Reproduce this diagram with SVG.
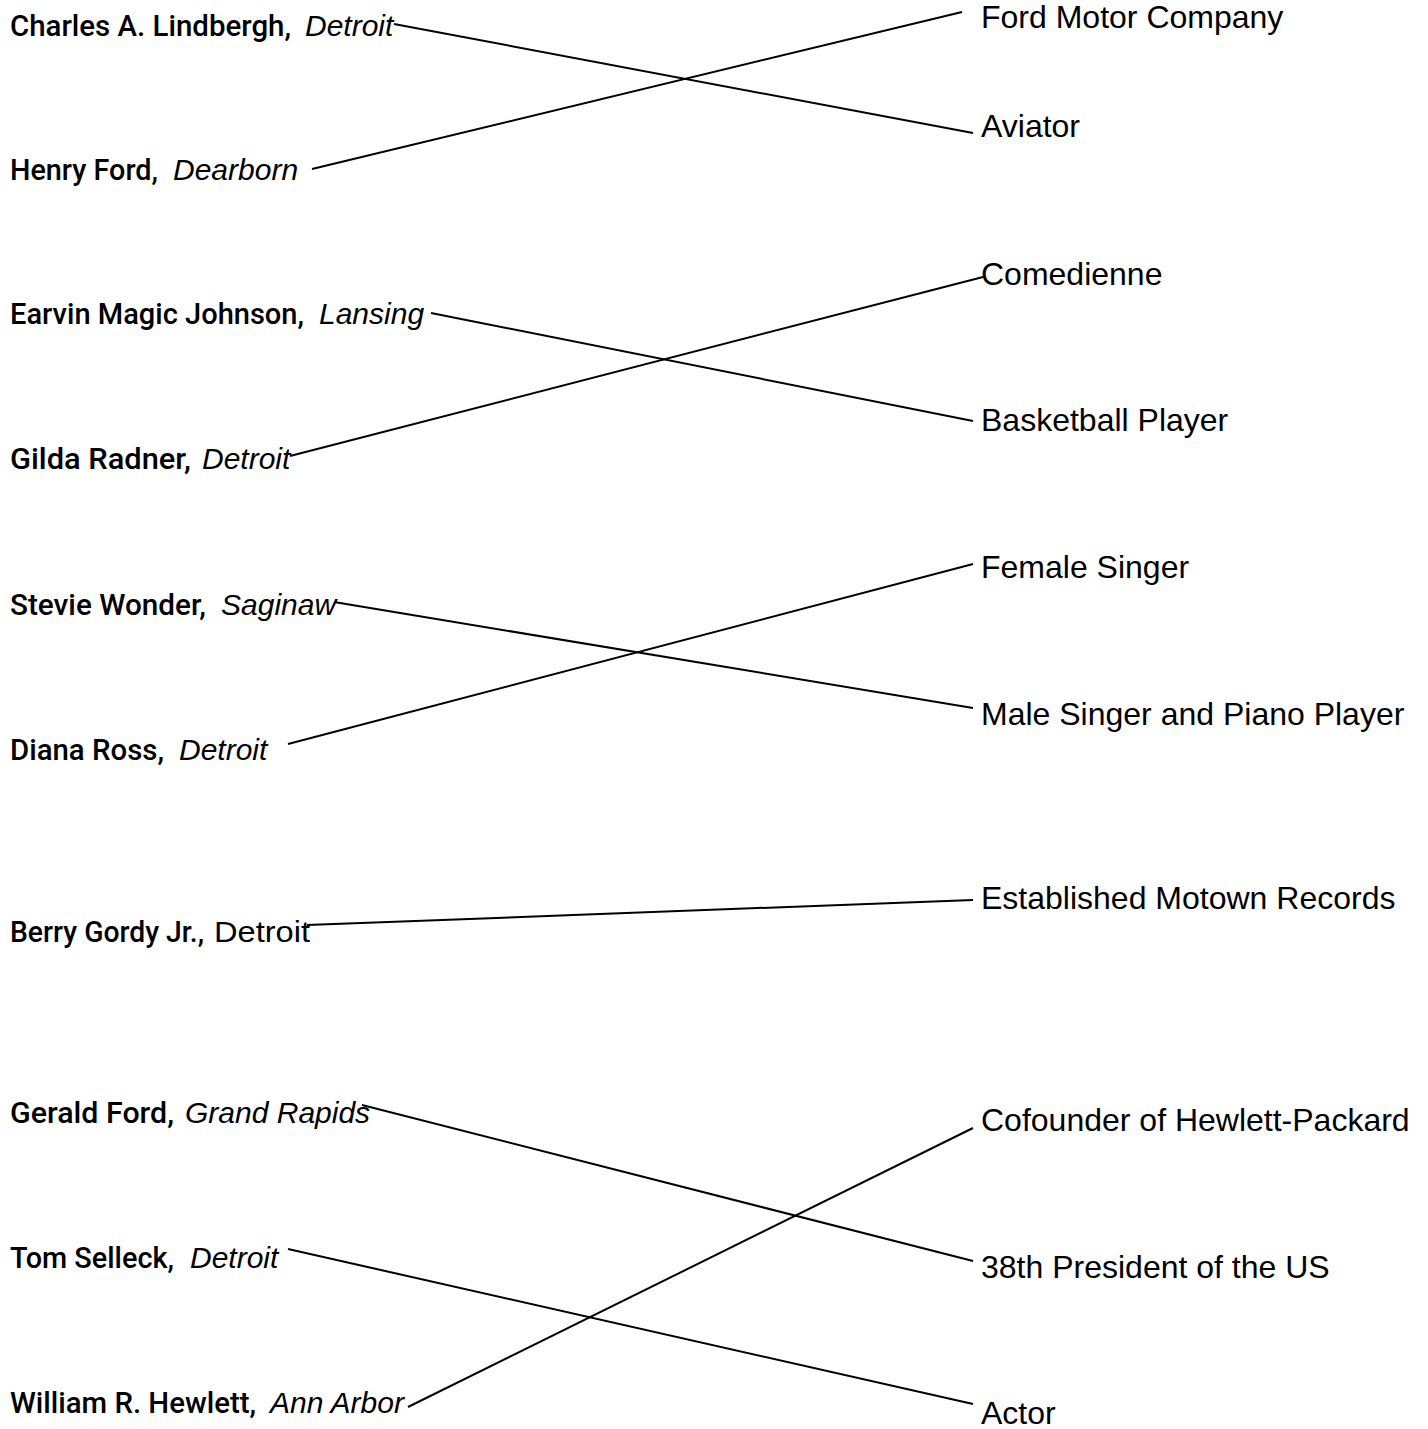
<svg xmlns="http://www.w3.org/2000/svg" width="1428" height="1429" viewBox="0 0 1428 1429">
<style>
.nm{font-family:Roboto,"Liberation Sans",sans-serif;font-weight:500;font-size:30px;fill:#000}
.pl{font-family:"Liberation Sans",Arial,sans-serif;font-style:italic;font-size:30px;fill:#000}
.pu{font-family:"Liberation Sans",Arial,sans-serif;font-size:30px;fill:#000}
.rt{font-family:"Liberation Sans",Arial,sans-serif;font-size:32px;fill:#000}
.cn line{stroke:#000;stroke-width:2}
</style>
<rect width="1428" height="1429" fill="#fff"/>
<g id="left-nodes">
<g id="lindbergh"><text class="nm" x="10" y="36" textLength="281" lengthAdjust="spacingAndGlyphs">Charles A. Lindbergh,</text><text class="pl" x="305" y="36">Detroit</text></g>
<g id="henry-ford"><text class="nm" x="10" y="180" textLength="148" lengthAdjust="spacingAndGlyphs">Henry Ford,</text><text class="pl" x="173" y="180">Dearborn</text></g>
<g id="magic-johnson"><text class="nm" x="10" y="324" textLength="294" lengthAdjust="spacingAndGlyphs">Earvin Magic Johnson,</text><text class="pl" x="319" y="324">Lansing</text></g>
<g id="gilda-radner"><text class="nm" x="10" y="469" textLength="181" lengthAdjust="spacingAndGlyphs">Gilda Radner,</text><text class="pl" x="202" y="469">Detroit</text></g>
<g id="stevie-wonder"><text class="nm" x="10" y="615" textLength="196" lengthAdjust="spacingAndGlyphs">Stevie Wonder,</text><text class="pl" x="221" y="615">Saginaw</text></g>
<g id="diana-ross"><text class="nm" x="10" y="760" textLength="154" lengthAdjust="spacingAndGlyphs">Diana Ross,</text><text class="pl" x="179" y="760">Detroit</text></g>
<g id="berry-gordy"><text class="nm" x="10" y="942" textLength="194" lengthAdjust="spacingAndGlyphs">Berry Gordy Jr.,</text><text class="pu" x="214" y="942" textLength="96" lengthAdjust="spacingAndGlyphs">Detroit</text></g>
<g id="gerald-ford"><text class="nm" x="10" y="1123" textLength="164" lengthAdjust="spacingAndGlyphs">Gerald Ford,</text><text class="pl" x="185" y="1123">Grand Rapids</text></g>
<g id="tom-selleck"><text class="nm" x="10" y="1268" textLength="164" lengthAdjust="spacingAndGlyphs">Tom Selleck,</text><text class="pl" x="190" y="1268">Detroit</text></g>
<g id="william-hewlett"><text class="nm" x="10" y="1413" textLength="246" lengthAdjust="spacingAndGlyphs">William R. Hewlett,</text><text class="pl" x="270" y="1413">Ann Arbor</text></g>
</g>
<g id="right-nodes">
<g id="ford-motor"><text class="rt" x="981" y="28">Ford Motor Company</text></g>
<g id="aviator"><text class="rt" x="981" y="137">Aviator</text></g>
<g id="comedienne"><text class="rt" x="981" y="285">Comedienne</text></g>
<g id="basketball"><text class="rt" x="981" y="431">Basketball Player</text></g>
<g id="female-singer"><text class="rt" x="981" y="578">Female Singer</text></g>
<g id="male-singer"><text class="rt" x="981" y="725">Male Singer and Piano Player</text></g>
<g id="motown"><text class="rt" x="981" y="909">Established Motown Records</text></g>
<g id="hp"><text class="rt" x="981" y="1131">Cofounder of Hewlett-Packard</text></g>
<g id="president"><text class="rt" x="981" y="1278">38th President of the US</text></g>
<g id="actor"><text class="rt" x="981" y="1424">Actor</text></g>
</g>
<g id="connectors" class="cn">
<line x1="394" y1="24" x2="973" y2="133"/>
<line x1="312" y1="169" x2="962" y2="12"/>
<line x1="431" y1="313" x2="973" y2="421"/>
<line x1="290" y1="456" x2="983" y2="277"/>
<line x1="334" y1="602" x2="973" y2="708"/>
<line x1="288" y1="744" x2="973" y2="564"/>
<line x1="307" y1="925" x2="973" y2="900"/>
<line x1="362" y1="1105" x2="973" y2="1261"/>
<line x1="288" y1="1249" x2="973" y2="1404"/>
<line x1="408" y1="1407" x2="973" y2="1128"/>
</g>
</svg>
